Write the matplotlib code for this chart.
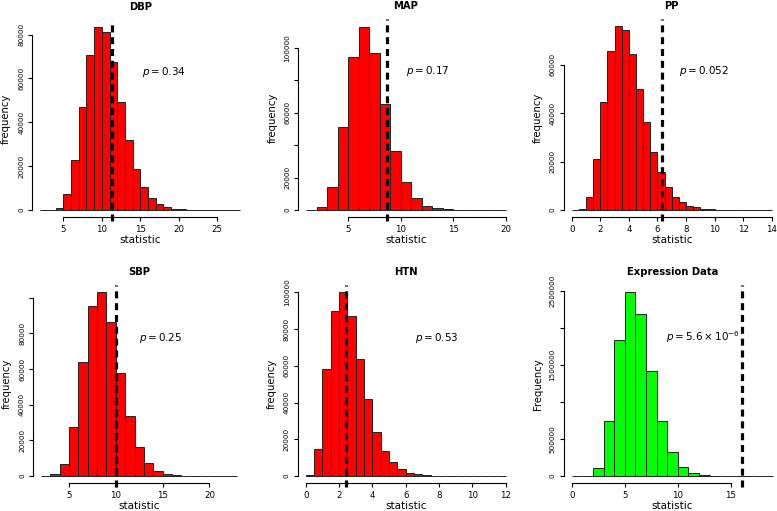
import matplotlib
matplotlib.use("Agg")
import matplotlib.pyplot as plt
import numpy as np

plt.rcParams['font.family'] = ['DejaVu Sans']
plt.rcParams['mathtext.fontset'] = 'dejavusans'

dbp_start, dbp_width = 2, 1
dbp_counts = [0, 0, 1060, 7100, 22600, 47000, 70700, 83300, 81000, 67300, 49200,
              31800, 18900, 10500, 5300, 2700, 1200, 450, 300, 0, 0, 0, 0, 0, 0, 0]
dbp_obs, dbp_p = 11.3, r'$p = 0.34$'

map_start, map_width = 1, 1
map_counts = [0, 1600, 14400, 51000, 94500, 113000, 96900, 65300, 36400, 17100,
              7200, 2700, 1000, 350, 0, 0, 0, 0, 0]
map_obs, map_p = 8.66, r'$p = 0.17$'

pp_start, pp_width = 0, 0.5
pp_counts = [0, 500, 5500, 21000, 44400, 65500, 75800, 74200, 64500, 49900, 36300,
             24100, 15600, 9600, 5400, 3200, 1800, 1100, 450, 200, 0, 0, 0, 0, 0, 0, 0, 0]
pp_obs, pp_p = 6.32, r'$p = 0.052$'

sbp_start, sbp_width = 2, 1
sbp_counts = [0, 900, 6700, 27300, 63800, 95300, 103000, 86200, 57900, 33500, 16300,
              7100, 3000, 1100, 400, 0, 0, 0, 0, 0, 0]
sbp_obs, sbp_p = 10.0, r'$p = 0.25$'

htn_start, htn_width = 0, 0.5
htn_counts = [700, 14500, 58000, 89800, 100000, 87300, 63500, 41700, 24100, 13800,
              7400, 3800, 1800, 900, 350, 0, 0, 0, 0, 0, 0, 0, 0, 0]
htn_obs, htn_p = 2.4, r'$p = 0.53$'

expr_start, expr_width = 0, 1
expr_counts = [0, 0, 108000, 740000, 1841000, 2486000, 2198000, 1426000, 740000,
               320000, 117000, 41000, 13500, 3000, 0, 0, 0, 0, 0]
expr_obs, expr_p = 16.0, r'$p = 5.6\times10^{-6}$'

# ---- layout (pixel boxes: left, right, top, bottom) ----
W, H = 777, 511
fig = plt.figure(figsize=(W / 100, H / 100), dpi=100)

panels = [
    dict(title='DBP', start=dbp_start, width=dbp_width, counts=dbp_counts, obs=dbp_obs,
         p=dbp_p, color='#ff0000', box=(32.2, 248.4, 20.1, 217.3), ptxt=(0.609, 0.738),
         xt=[5, 10, 15, 20, 25], yt=[0, 20000, 40000, 60000, 80000],
         ylab=[0, 20000, 40000, 60000, 80000], ylabel='frequency'),
    dict(title='MAP', start=map_start, width=map_width, counts=map_counts, obs=map_obs,
         p=map_p, color='#ff0000', box=(298.4, 513.7, 19.3, 217.3), ptxt=(0.603, 0.738),
         xt=[5, 10, 15, 20], yt=[0, 20000, 40000, 60000, 80000, 100000],
         ylab=[0, 20000, 60000, 100000], ylabel='frequency'),
    dict(title='PP', start=pp_start, width=pp_width, counts=pp_counts, obs=pp_obs,
         p=pp_p, color='#ff0000', box=(563.7, 779.7, 19.0, 217.3), ptxt=(0.649, 0.738),
         xt=list(range(0, 15, 2)), yt=[0, 20000, 40000, 60000],
         ylab=[0, 20000, 40000, 60000], ylabel='frequency'),
    dict(title='SBP', start=sbp_start, width=sbp_width, counts=sbp_counts, obs=sbp_obs,
         p=sbp_p, color='#ff0000', box=(33.1, 245.3, 285.0, 483.3), ptxt=(0.602, 0.734),
         xt=[5, 10, 15, 20], yt=[0, 20000, 40000, 60000, 80000, 100000],
         ylab=[0, 20000, 40000, 60000, 80000], ylabel='frequency'),
    dict(title='HTN', start=htn_start, width=htn_width, counts=htn_counts, obs=htn_obs,
         p=htn_p, color='#ff0000', box=(297.7, 513.7, 285.0, 483.3), ptxt=(0.644, 0.734),
         xt=list(range(0, 13, 2)), yt=[0, 20000, 40000, 60000, 80000, 100000],
         ylab=[0, 20000, 40000, 60000, 80000, 100000], ylabel='frequency'),
    dict(title='Expression Data', start=expr_start, width=expr_width, counts=expr_counts,
         obs=expr_obs, p=expr_p, color='#00ff00', box=(563.6, 781.5, 285.0, 483.3),
         ptxt=(0.641, 0.739),
         xt=[0, 5, 10, 15], yt=[0, 500000, 1000000, 1500000, 2000000, 2500000],
         ylab=[0, 500000, 1500000, 2500000], ylabel='Frequency'),
]

for pn in panels:
    l, r, t, b = pn['box']
    ax = fig.add_axes([l / W, 1 - b / H, (r - l) / W, (b - t) / H])
    counts = np.array(pn['counts'], dtype=float)
    edges = pn['start'] + pn['width'] * np.arange(len(counts) + 1)
    ax.bar(edges[:-1], counts, width=pn['width'], align='edge', color=pn['color'],
           edgecolor='#222222', linewidth=0.7)

    # R-style 4% axis extension
    x0, x1 = edges[0], edges[-1]
    dx = (x1 - x0) * 0.04
    ax.set_xlim(x0 - dx, x1 + dx)
    ymax = counts.max()
    ax.set_ylim(-0.04 * ymax, 1.04 * ymax)

    ax.axvline(pn['obs'], ymin=-4 / (b - t), ymax=1, color='black', lw=2.3,
               linestyle=(0, (2.2, 1.5)), clip_on=False, zorder=5)

    for s in ['top', 'right']:
        ax.spines[s].set_visible(False)
    ax.spines['left'].set_bounds(pn['yt'][0], pn['yt'][-1])
    ax.spines['bottom'].set_bounds(pn['xt'][0], pn['xt'][-1])
    for s in ['left', 'bottom']:
        ax.spines[s].set_linewidth(0.8)

    ax.set_xticks(pn['xt'])
    ax.set_xticklabels([str(v) for v in pn['xt']], fontsize=6.2)
    ax.set_yticks(pn['yt'])
    ax.set_yticklabels([str(v) if v in pn['ylab'] else '' for v in pn['yt']],
                       fontsize=5.2, rotation=90, va='center')
    ax.tick_params(axis='x', length=2.9, width=0.8, pad=2.4)
    ax.tick_params(axis='y', length=2.9, width=0.8, pad=2.9)

    ax.set_title(pn['title'], fontsize=7.2, fontweight='bold', pad=7.2)
    ax.set_xlabel('statistic', fontsize=7.5)
    ax.xaxis.set_label_coords(0.5, -17.5 / (b - t))
    ax.set_ylabel(pn['ylabel'], fontsize=7.2)
    ax.yaxis.set_label_coords(-21 / (r - l), 0.5)

    ax.text(pn['ptxt'][0], pn['ptxt'][1], pn['p'], transform=ax.transAxes,
            ha='center', va='center', fontsize=7.5)

fig.savefig('out.png', dpi=100)
